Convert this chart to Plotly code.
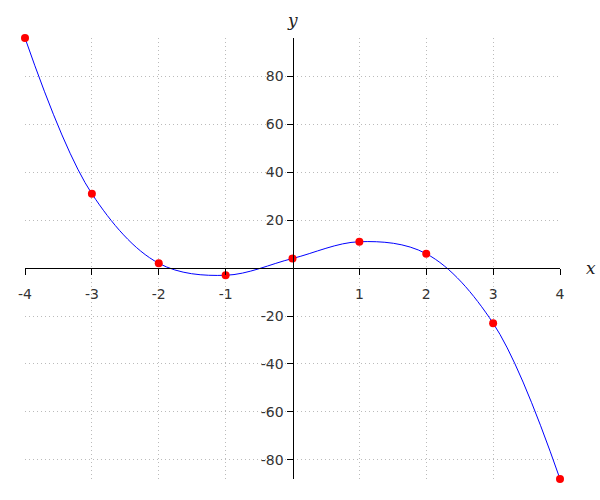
import plotly.graph_objects as go

x_vals = [-4, -3, -2, -1, 0, 1, 2, 3, 4]
y_vals = [96, 31, 2, -3, 4, 11, 6, -23, -88]
x_ticks = [-4, -3, -2, -1, 1, 2, 3, 4]
y_ticks = [-80, -60, -40, -20, 20, 40, 60, 80]
x_labels = [str(v) for v in x_ticks]
y_labels = [str(v) for v in y_ticks]

x_range = [-4, 4]
y_range = [-88, 96]

fig = go.Figure()
fig.add_trace(go.Scatter(x=x_vals, y=y_vals, mode="lines",
                         line=dict(color="blue", width=1, shape="spline", smoothing=1.0),
                         hoverinfo="skip", cliponaxis=False))
fig.add_trace(go.Scatter(x=x_vals, y=y_vals, mode="markers",
                         marker=dict(color="red", size=8), cliponaxis=False))

font = dict(family="DejaVu Sans", size=14, color="#333")
fig.update_layout(
    width=600, height=500, showlegend=False,
    plot_bgcolor="white", paper_bgcolor="white",
    margin=dict(l=25, r=40, t=38, b=21, autoexpand=False),
    xaxis=dict(range=x_range, tickvals=x_ticks, ticktext=x_labels, anchor="free",
               position=(0 - y_range[0]) / (y_range[1] - y_range[0]),
               showline=True, linecolor="black", linewidth=1,
               ticks="outside", ticklen=6, tickcolor="black",
               ticklabelstandoff=7,
               showgrid=True, gridcolor="#bbb", griddash="1px,3px", gridwidth=1,
               zeroline=False, tickfont=font, automargin=False),
    yaxis=dict(range=y_range, tickvals=y_ticks, ticktext=y_labels, anchor="free",
               position=(0 - x_range[0]) / (x_range[1] - x_range[0]),
               showline=True, linecolor="black", linewidth=1,
               ticks="outside", ticklen=6, tickcolor="black",
               showgrid=True, gridcolor="#bbb", griddash="1px,3px", gridwidth=1,
               zeroline=False, tickfont=font, automargin=False),
    annotations=[
        dict(text="<i>y</i>", x=0, y=1, xref="x", yref="paper", yshift=6,
             xanchor="center", yanchor="bottom", showarrow=False,
             font=dict(family="DejaVu Serif", size=17, color="#222")),
        dict(text="<i>x</i>", x=1, y=0, xref="paper", yref="y", xshift=24,
             xanchor="left", yanchor="middle", showarrow=False,
             font=dict(family="DejaVu Serif", size=17, color="#222")),
    ],
)
fig.write_html("out.html", config={"displayModeBar": False},
               post_script="document.body.style.margin='0';document.body.style.overflow='hidden';")
